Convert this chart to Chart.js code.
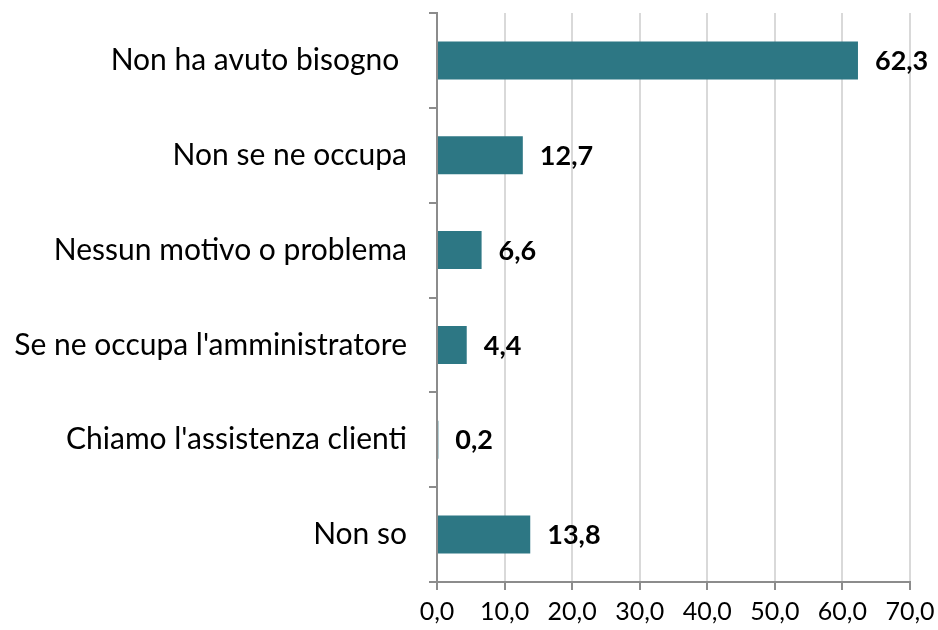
<!DOCTYPE html>
<html>
<head>
<meta charset="utf-8">
<script src="https://cdn.jsdelivr.net/npm/chart.js@4"></script>
<style>
  html, body { margin: 0; padding: 0; background: #fff; }
  #wrap { width: 938px; height: 630px; }
</style>
</head>
<body>
<div id="wrap"><canvas id="motiviChart"></canvas></div>
<script>
// Motivi, valori percentuali
const categorie = [
    'Non ha avuto bisogno ',
    'Non se ne occupa',
    'Nessun motivo o problema',
    "Se ne occupa l'amministratore",
    "Chiamo l'assistenza clienti",
    'Non so'
];
const valori = [62.3, 12.7, 6.6, 4.4, 0.2, 13.8];
const xMin = 0;
const xMax = 70;
const xStep = 10;

const FONT = 'Lato, "Open Sans", sans-serif';

function formatNumero(v) {
    return v.toFixed(1).replace('.', ',');
}

// Etichette in grassetto a destra di ogni barra
const etichetteBarre = {
    id: 'etichetteBarre',
    afterDatasetsDraw(chart) {
        const ctx = chart.ctx;
        const meta = chart.getDatasetMeta(0);
        ctx.save();
        ctx.font = 'bold 27px ' + FONT;
        ctx.fillStyle = '#000';
        ctx.textAlign = 'left';
        ctx.textBaseline = 'middle';
        meta.data.forEach((bar, i) => {
            ctx.fillText(formatNumero(valori[i]), bar.x + 17, bar.y + 1);
        });
        ctx.restore();
    }
};

const ctx = document.getElementById('motiviChart').getContext('2d');
new Chart(ctx, {
    type: 'bar',
    data: {
        labels: categorie,
        datasets: [{
            data: valori,
            backgroundColor: '#2D7784',
            borderWidth: 0,
            barPercentage: 0.4,
            categoryPercentage: 1.0
        }]
    },
    options: {
        indexAxis: 'y',
        responsive: true,
        maintainAspectRatio: false,
        animation: false,
        layout: { padding: { top: 13, right: 28, left: 0, bottom: 0 } },
        plugins: {
            legend: { display: false },
            tooltip: { enabled: false }
        },
        scales: {
            x: {
                min: xMin,
                max: xMax,
                ticks: {
                    stepSize: xStep,
                    color: '#000',
                    padding: 7,
                    font: { family: FONT, size: 25 },
                    callback: v => formatNumero(v)
                },
                grid: {
                    color: '#D9D9D9',
                    lineWidth: 2,
                    tickColor: '#8C8C8C',
                    tickLength: 8
                },
                border: { color: '#8C8C8C', width: 2 },
                afterFit: scale => {
                    scale.height = 48;
                    scale.paddingLeft = 0;
                    scale.paddingRight = 0;
                }
            },
            y: {
                ticks: {
                    color: '#000',
                    padding: 22,
                    font: { family: FONT, size: 30 }
                },
                grid: {
                    offset: true,
                    drawOnChartArea: false,
                    tickColor: '#8C8C8C',
                    tickLength: 8,
                    lineWidth: 2
                },
                border: { color: '#8C8C8C', width: 2 },
                afterFit: scale => {
                    scale.width = 437;
                    scale.paddingTop = 0;
                    scale.paddingBottom = 0;
                }
            }
        }
    },
    plugins: [etichetteBarre]
});
</script>
</body>
</html>
